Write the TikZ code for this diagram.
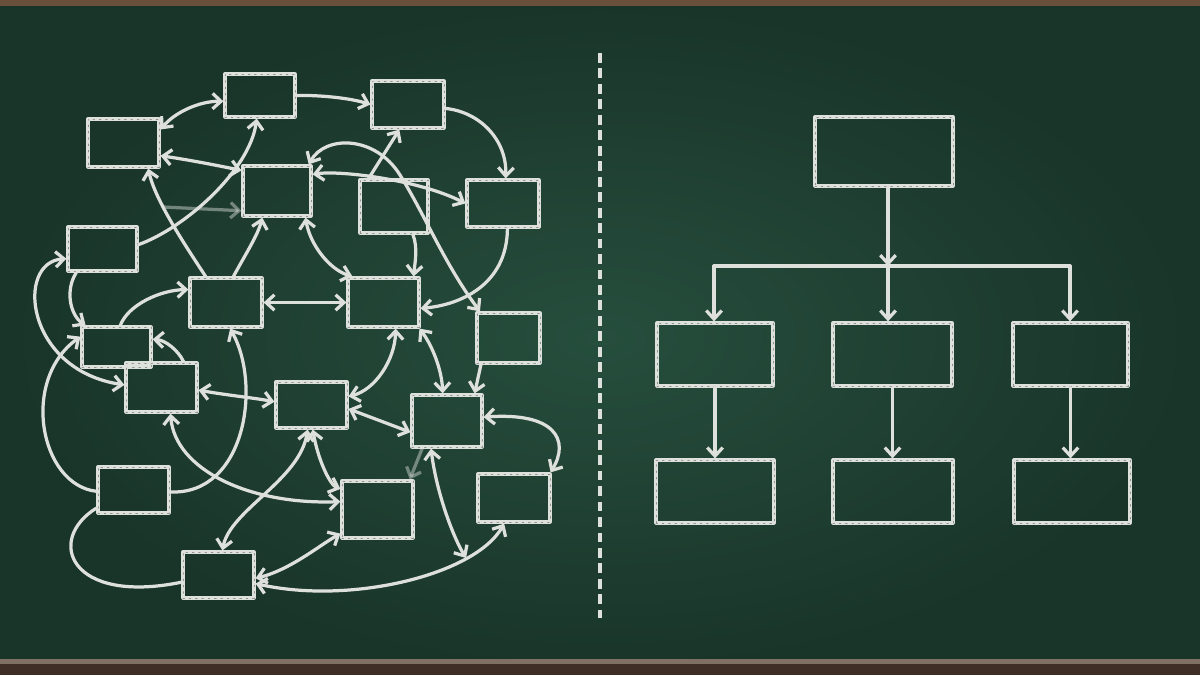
\documentclass[tikz,border=0pt]{standalone}
\usetikzlibrary{arrows.meta}
\definecolor{boardin}{RGB}{38,78,61}
\definecolor{boardout}{RGB}{25,52,41}
\definecolor{chalkwhite}{RGB}{222,224,220}
\definecolor{chalkgrey}{RGB}{140,146,140}
\definecolor{wood}{RGB}{105,80,58}
\definecolor{wooddark}{RGB}{62,46,38}
\definecolor{woodlight}{RGB}{128,112,100}
\begin{document}
\begin{tikzpicture}[x=0.025cm, y=-0.025cm, >={Straight Barb[length=6pt,width=11pt]},
chalk/.style={draw=chalkwhite, line width=2.3pt, line cap=round, line join=round},
chalk box/.style 2 args={chalk, rectangle, inner sep=0pt, minimum width=#1*0.025cm, minimum height=#2*0.025cm,
  postaction={draw=chalkgrey, line width=.7pt, dash pattern=on 1pt off 3.5pt}},
faint/.style={opacity=.45}]
\useasboundingbox (0,0) rectangle (1200,675);
% board and frame
\shade[inner color=boardin, outer color=boardout] (0,0) rectangle (1200,675);
\fill[wood] (0,0) rectangle (1200,6);
\fill[wooddark] (0,660) rectangle (1200,675);
\fill[woodlight] (0,659) rectangle (1200,664);
\begin{scope}[every path/.style={chalk}]
% left: the tangle
\node[chalk box={71}{48}] (v1) at (123.5,143) {};
\node[chalk box={70}{43}] (v2) at (260,95.5) {};
\node[chalk box={72}{47}] (v3) at (408,104.5) {};
\node[chalk box={68}{50}] (v4) at (277,191) {};
\node[chalk box={68}{53}] (v5) at (394,206.5) {};
\node[chalk box={72}{47}] (v6) at (503,203.5) {};
\node[chalk box={69}{44}] (v7) at (102.5,249) {};
\node[chalk box={72}{49}] (v8) at (226,302.5) {};
\node[chalk box={71}{49}] (v9) at (383.5,302.5) {};
\node[chalk box={63}{50}] (v10) at (508.5,338) {};
\node[chalk box={69}{40}] (v11) at (116.5,347) {};
\node[chalk box={71}{49}] (v12) at (161.5,387.5) {};
\node[chalk box={71}{46}] (v13) at (311.5,405) {};
\node[chalk box={70}{52}] (v14) at (447,421) {};
\node[chalk box={71}{46}] (v15) at (133.5,490) {};
\node[chalk box={71}{57}] (v16) at (377.5,509.5) {};
\node[chalk box={72}{48}] (v17) at (514,498) {};
\node[chalk box={71}{46}] (v18) at (218.5,575) {};
\coordinate (c1) at (163,207);
\coordinate (c2) at (466,558);
\end{scope}
\begin{scope}[every path/.style={chalk}]
\draw[<->] (v1.20) .. controls (175,112) and (200,101) .. (v2.189);
\draw[<->] (v1.-19) .. controls (190,160) and (220,166) .. (v4.150);
\draw[->] (v8.128) .. controls (185,245) and (155,200) .. (v1.-46);
\draw[->] (v7.7) .. controls (185,228) and (250,170) .. (v2.262);
\draw[->, faint] (c1) -- (v4.209);
\draw[<->] (v4.40) .. controls (325,135) and (375,135) .. (400,175) .. controls (425,215) and (445,265) .. (v10.137);
\draw[->] (v5.132) -- (v3.251);
\draw[<->] (v4.25) .. controls (340,170) and (420,180) .. (v6.west);
\draw[->] (v3.-6) .. controls (480,112) and (507,140) .. (v6.84);
\draw[->] (v2.east) .. controls (320,95) and (350,98) .. (v3.west);
\draw[->] (v5.-56) .. controls (418,248) and (415,262) .. (v9.41);
\draw[->] (v6.-80) .. controls (507,285) and (460,305) .. (v9.-9);
\draw[<->] (v4.-43) .. controls (310,245) and (330,270) .. (v9.140);
\draw[->] (v8.74) .. controls (245,255) and (258,235) .. (v4.241);
\draw[->] (v7.222) .. controls (65,290) and (70,315) .. (v11.145);
\draw[<->] (v7.195) .. controls (15,262) and (25,370) .. (v12.176);
\draw[->] (v15.182) .. controls (40,485) and (20,380) .. (v11.164);
\draw[->] (v11.80) .. controls (128,305) and (160,290) .. (v8.161);
\draw[->] (v12.50) .. controls (178,350) and (165,340) .. (v11.12);
\draw[<->] (v12.-4) .. controls (225,395) and (255,398) .. (v13.175);
\draw[->] (v15.-3) .. controls (245,495) and (262,385) .. (v8.-81);
\draw[<->] (v12.-71) .. controls (175,470) and (250,505) .. (v16.168);
\draw[<->] (v13.-99) .. controls (300,480) and (230,510) .. (v18.81);
\draw[<->] (v13.-87) .. controls (318,460) and (330,485) .. (v16.151);
\draw[<->] (v18.-5) .. controls (290,570) and (320,545) .. (v16.213);
\draw[<->] (v18.-13) .. controls (350,605) and (475,575) .. (v17.-111);
\draw[<->] (v14.240) .. controls (436,490) and (452,535) .. (c2);
\draw[->, faint] (v14.228) -- (v16.43);
\draw[<->] (v9.-65) .. controls (395,360) and (375,390) .. (v13.13);
\draw[<->] (v9.-36) .. controls (432,345) and (442,370) .. (v14.99);
\draw[->] (v10.224) -- (v14.45);
\draw[<->] (v8.east) -- (v9.west);
\draw[<->] (v13.-6) -- (v14.197);
\draw[<->] (v17.35) .. controls (570,440) and (555,412) .. (v14.6);
\draw (v15.206) .. controls (45,540) and (70,605) .. (v18.191);
\end{scope}
% divider
\draw[chalk, line width=2.6pt, line cap=butt, dash pattern=on 7pt off 4pt] (600,53) -- (600,618);
% right: the hierarchy
\begin{scope}[every path/.style={chalk}]
\node[chalk box={138}{69}] (w1) at (884,151.5) {};
\node[chalk box={116}{63}] (w2) at (715,354.5) {};
\node[chalk box={119}{63}] (w3) at (892.5,354.5) {};
\node[chalk box={115}{63}] (w4) at (1070.5,354.5) {};
\node[chalk box={118}{63}] (w5) at (715,491.5) {};
\node[chalk box={120}{63}] (w6) at (893,491.5) {};
\node[chalk box={116}{63}] (w7) at (1072,491.5) {};
\coordinate (hub) at (888,266);
\coordinate (hubl) at (714,266);
\coordinate (hubr) at (1070,266);
\draw[->] (w1.south -| hub) -- (hub);
\draw (hubl) -- (hubr);
\draw[->] (hubl) -- (hubl |- w2.north);
\draw[->] (hub) -- (hub |- w3.north);
\draw[->] (hubr) -- (hubr |- w4.north);
\draw[->] (w2.south) -- (w5.north);
\draw[->] (w3.south) -- (w3.south |- w6.north);
\draw[->] (w4.south) -- (w4.south |- w7.north);
\end{scope}
\end{tikzpicture}
\end{document}
